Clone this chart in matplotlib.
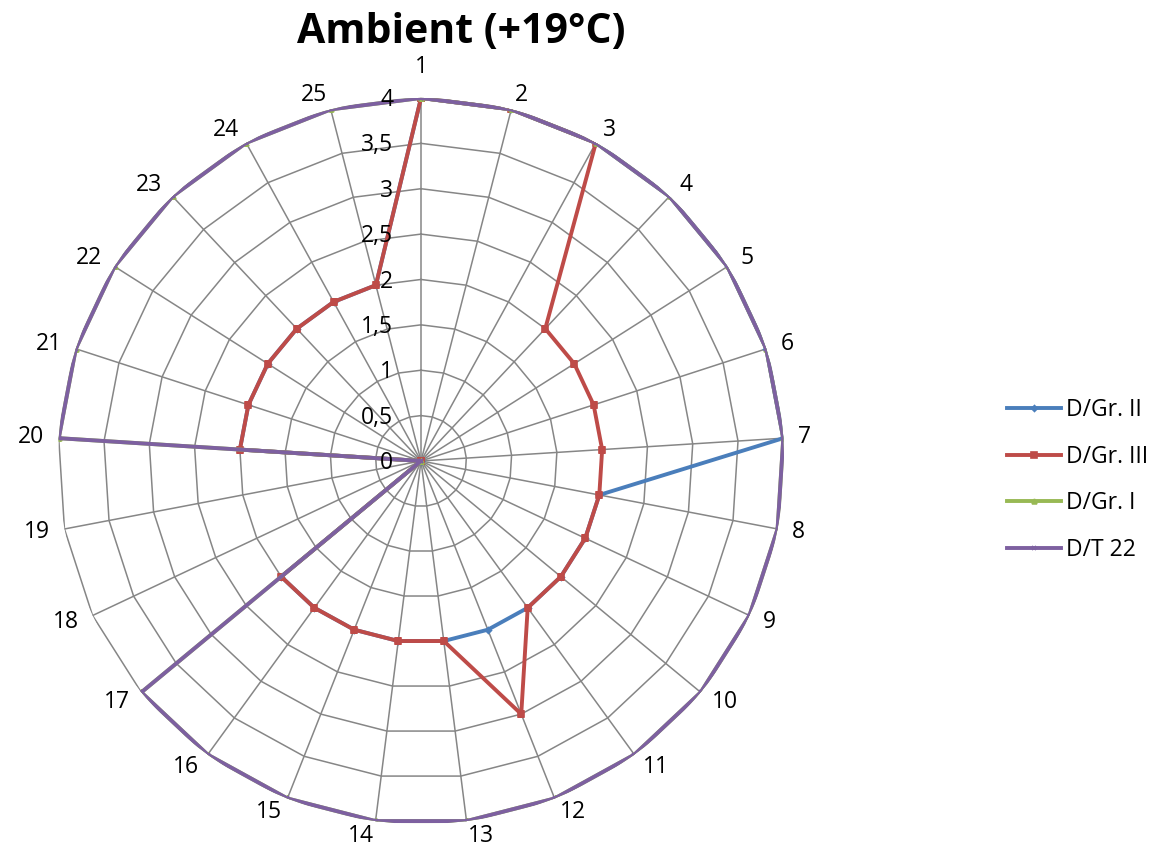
import numpy as np
import matplotlib
matplotlib.use("Agg")
import matplotlib.pyplot as plt

# Category axes 1..25 and the four series
categories = [str(i) for i in range(1, 26)]
gr2 = [4, 4, 4, 4, 4, 4, 4, 2, 2, 2, 2, 2, 2, 2, 2, 2, 2, 0, 0, 2, 2, 2, 2, 2, 2]
gr3 = [4, 4, 4, 2, 2, 2, 2, 2, 2, 2, 2, 3, 2, 2, 2, 2, 2, 0, 0, 2, 2, 2, 2, 2, 2]
gr1 = [4, 4, 4, 4, 4, 4, 4, 4, 4, 4, 4, 4, 4, 4, 4, 4, 4, 0, 0, 4, 4, 4, 4, 4, 4]
dt22 = [4, 4, 4, 4, 4, 4, 4, 4, 4, 4, 4, 4, 4, 4, 4, 4, 4, 0, 0, 4, 4, 4, 4, 4, 4]

levels = [0, 0.5, 1, 1.5, 2, 2.5, 3, 3.5, 4]
level_labels = ["0", "0,5", "1", "1,5", "2", "2,5", "3", "3,5", "4"]

series = [
    ("D/Gr. II", gr2, "#4A7EBB", "D", 3),
    ("D/Gr. III", gr3, "#BE4B48", "s", 4.5),
    ("D/Gr. I", gr1, "#98B954", "^", 3.5),
    ("D/T 22", dt22, "#7D60A0", "x", 3.5),
]

plt.rcParams["font.family"] = ["Open Sans", "DejaVu Sans"]
FS = 16.5

n = len(categories)
theta = np.arange(n) * 2 * np.pi / n
theta_c = np.append(theta, theta[0])

fig = plt.figure(figsize=(11.53, 8.49), dpi=100)
ax = fig.add_axes([0.0503, 0.0295, 0.6297, 0.8551], projection="polar")
ax.set_theta_zero_location("N")
ax.set_theta_direction(-1)
ax.set_ylim(0, 4)
ax.grid(False)
ax.set_xticks([])
ax.set_yticks([])
ax.spines["polar"].set_visible(False)

# polygon grid
grid_col = "#868686"
for lv in levels[1:]:
    ax.plot(theta_c, [lv] * (n + 1), color=grid_col, lw=1.1, zorder=1)
for t in theta:
    ax.plot([t, t], [0, 4], color=grid_col, lw=1.1, zorder=1)

handles = []
for name, vals, col, mk, ms in series:
    v = np.append(vals, vals[0])
    h, = ax.plot(theta_c, v, color=col, lw=2.8, marker=mk, ms=ms,
                 mew=1.2, label=name, zorder=3)
    handles.append(h)

# radial value labels along the first spoke
for lv, lab in zip(levels, level_labels):
    ax.annotate(lab, xy=(0, lv), xytext=(-20, -1.5), textcoords="offset points",
                ha="right", va="center", fontsize=FS, zorder=5)

# category labels, Excel-like placement next to each vertex
for i, (t, lab) in enumerate(zip(theta, categories)):
    s, c = np.sin(t), np.cos(t)
    if i == 0:
        ax.annotate(lab, xy=(t, 4), xytext=(0, 22), textcoords="offset points",
                    ha="center", va="center", fontsize=FS)
        continue
    ha = "left" if s > 0.01 else "right"
    ax.annotate(lab, xy=(t, 4), xytext=(10.8 * s, 10.8 * c),
                textcoords="offset points", ha=ha, va="center", fontsize=FS)

fig.text(0.4, 1 - 43 / 849, "Ambient (+19°C)", ha="center", va="baseline",
         fontsize=29.5, fontweight="bold")

fig.legend(handles=handles, loc="center left", bbox_to_anchor=(0.8734, 0.4346),
           frameon=False, fontsize=FS, handlelength=2.36, handletextpad=0.22,
           labelspacing=1.0, borderpad=0, borderaxespad=0)

fig.savefig("out.png", dpi=100)
